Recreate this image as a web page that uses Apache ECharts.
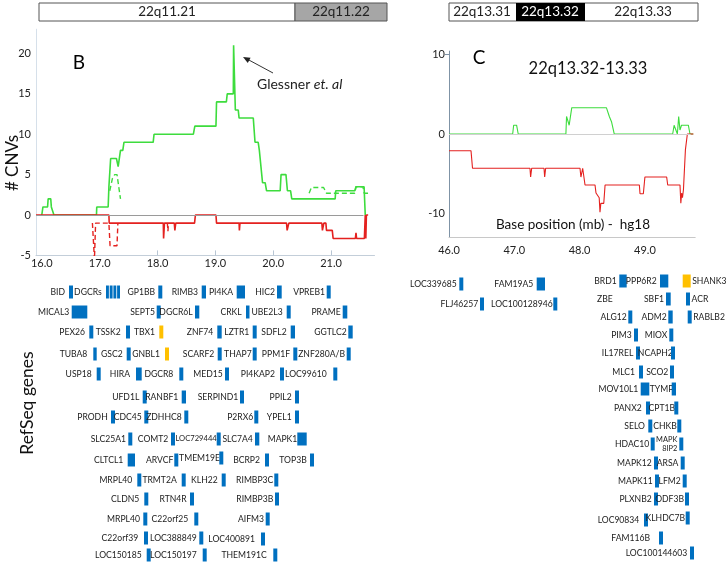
<!DOCTYPE html>
<html><head><meta charset="utf-8">
<script src="https://cdn.jsdelivr.net/npm/echarts@6/dist/echarts.min.js"></script>
<style>html,body{margin:0;padding:0;background:#fff}#c{width:726px;height:564px}</style>
</head><body><div id="c"></div><script>
// ---------- DATA ----------
// Panel B (22q11) : [position (mb), # CNVs]
const bGreenSolid = [[16.00,0],[16.02,1],[16.10,1],[16.11,2],[16.155,2],[16.165,1],[16.18,1],[16.21,0],
 [16.945,0],[16.95,1],[17.147,1],[17.16,3.5],[17.19,7],[17.29,7],[17.32,6],[17.34,6],[17.36,8],[17.40,8],[17.42,9],
 [17.925,9],[17.94,10],[18.62,10],[18.645,11],[19.01,11],[19.02,14],[19.19,14],[19.205,15],[19.31,15],[19.315,21],
 [19.33,21],[19.345,13],[19.395,13],[19.41,12],[19.655,12],[19.685,9],[19.74,9],[19.76,8],[19.815,4],[19.86,4],
 [19.885,3],[20.12,3],[20.135,5],[20.22,5],[20.245,3],[20.30,3],[20.32,2],[21.07,2],[21.08,3],[21.41,3],[21.43,3.5],
 [21.57,3.5],[21.59,0]];
const bGreenDashed = [[17.175,3],[17.22,4.5],[17.26,5],[17.30,5],[17.33,3.5],[17.36,2],null,
 [20.62,2.7],[20.66,3.4],[20.87,3.4],[20.92,2.7],[21.41,2.7],[21.43,3.5],[21.55,3.5],[21.57,2.7],[21.65,2.7]];
const bRedSolid = [[15.9,0],[17.16,0],[17.165,-1],[18.10,-1],[18.105,-2.9],[18.115,-2.9],[18.12,-1],[18.29,-1],
 [18.30,-1.9],[18.31,-1.9],[18.315,-1],[18.64,-1],[18.655,0],[19.01,0],[19.02,-1],[19.41,-1],[19.415,-1.9],
 [19.425,-1],[20.23,-1],[20.24,-1.9],[20.26,-1.9],[20.27,-1],[20.84,-1],[20.85,-1.9],[20.87,-1.9],[20.875,-1],
 [20.91,-1],[20.92,-1.9],[21.02,-1.9],[21.035,-2.9],[21.42,-2.9],[21.43,-2.2],[21.44,-2.9],[21.575,-2.9],
 [21.59,0],[21.60,-2.9],[21.61,0],[21.64,0]];
const bRedDashed = [[16.875,-1],[16.905,-1],[16.91,-5.5],[16.925,-5.5],[16.93,-1],[17.16,-1],[17.18,-3.8],
 [17.30,-3.8],[17.315,-1],null,[18.17,-1],[18.18,-2],[18.19,-1]];
// Panel C (22q13.32-13.33)
const cGreen = [[46.0,0],[46.975,0],[46.99,1.1],[47.035,1.1],[47.06,0],[47.79,0],[47.80,2.2],[47.84,1.1],
 [47.86,2.2],[47.88,3.3],[48.41,3.3],[48.455,2.2],[48.49,1.5],[48.53,0],[49.425,0],[49.447,1.1],[49.476,1.1],
 [49.497,0],[49.517,2.2],[49.527,2.2],[49.537,0.5],[49.56,1.1],[49.665,1.1],[49.69,0],[49.74,0]];
const cRed = [[46.0,-2.1],[46.337,-2.1],[46.36,-4.3],[47.24,-4.3],[47.25,-5.4],[47.266,-4.3],[47.455,-4.3],
 [47.465,-5.4],[47.48,-4.3],[48.006,-4.3],[48.02,-5.4],[48.047,-4.3],[48.083,-6.4],[48.236,-6.4],[48.251,-7.4],
 [48.30,-8],[48.312,-9.8],[48.325,-8.7],[48.37,-8.7],[48.39,-6.4],[48.915,-6.4],[48.925,-7.5],[48.976,-7.5],
 [49.0,-5.4],[49.333,-5.4],[49.349,-6.4],[49.537,-6.4],[49.55,-8.7],[49.563,-7.4],[49.575,-8],[49.59,-7],
 [49.62,-2],[49.65,0],[49.742,0]];
const bTicks = [16,17,18,19,20,21];
const bYTicks = [-5,0,5,10,15,20];
const cTicks = [46,47,48,49];
const cYTicks = [-10,0,10];
const bandsLeft = ["22q11.21","22q11.22"];
const bandsRight = ["22q13.31","22q13.32","22q13.33"];
const genesB = ["BID","DGCRs","GP1BB","RIMB3","PI4KA","HIC2","VPREB1",
 "MICAL3","SEPT5","DGCR6L","CRKL","UBE2L3","PRAME",
 "PEX26","TSSK2","TBX1","ZNF74","LZTR1","SDFL2","GGTLC2",
 "TUBA8","GSC2","GNBL1","SCARF2","THAP7","PPM1F","ZNF280A/B",
 "USP18","HIRA","DGCR8","MED15","PI4KAP2","LOC99610",
 "UFD1L","RANBF1","SERPIND1","PPIL2",
 "PRODH","CDC45","ZDHHC8","P2RX6","YPEL1",
 "SLC25A1","COMT2","LOC729444","SLC7A4","MAPK1",
 "CLTCL1","ARVCF","TMEM19E","BCRP2","TOP3B",
 "MRPL40","TRMT2A","KLH22","RIMBP3C",
 "CLDN5","RTN4R","RIMBP3B",
 "MRPL40","C22orf25","AIFM3",
 "C22orf39","LOC388849","LOC400891",
 "LOC150185","LOC150197","THEM191C"];
const genesC = ["LOC339685","FAM19A5","BRD1","PPP6R2","SHANK3",
 "FLJ46257","LOC100128946",
 "ZBE","SBF1","ACR",
 "ALG12","ADM2","RABLB2",
 "PIM3","MIOX",
 "IL17REL","NCAPH2",
 "MLC1","SCO2",
 "MOV10L1","TYMP",
 "PANX2","CPT1B",
 "SELO","CHKB",
 "HDAC10","MAPK8IP2",
 "MAPK12","ARSA",
 "MAPK11","LFM2",
 "PLXNB2","ODF3B",
 "LOC90834","KLHDC7B",
 "FAM116B",
 "LOC100144603"];

// ---------- LAYOUT (pixel placement of gene annotations) ----------
// [centre y, text right edge, block left, block width, kind]
const layoutB = [
 [292,65,69,4,'b'],[292,101.7,106,14.7,'s'],[292,155,158.3,4,'b'],[292,198,201.7,4.3,'b'],[292,233,236.7,8.3,'b'],[292,275,277,4.7,'b'],[292,325,326.7,4,'b'],
 [312,69.3,71.7,15.6,'b'],[312,155,156.7,4,'b'],[312,192.7,195,4.3,'b'],[312,241.7,246,3.5,'b'],[312,282.7,286.7,4,'b'],[312,340.7,342.7,4.6,'b'],
 [332,85,89.3,4,'b'],[332,120.7,126,4,'b'],[332,155,159.3,4,'y'],[332,213.3,217.3,4.4,'b'],[332,249.3,252.7,4,'b'],[332,286.7,290.7,4.3,'b'],[332,346.7,348.3,4.4,'b'],
 [354,87.3,93.3,3.4,'b'],[354,122.7,126.7,4,'b'],[354,160,165,4,'y'],[354,214.3,217.7,4,'b'],[354,251.7,252.7,4,'b'],[354,290,293.3,4,'b'],[354,345,346.7,4,'b'],
 [374,91.7,96.7,4,'b'],[374,130,136,5.7,'b'],[374,173.3,179.3,4,'b'],[374,222.7,225,4,'b'],[374,275,280,4,'b'],[374,326.7,333.3,4,'b'],
 [397,139.3,142.7,4,'b'],[397,178.3,181.7,4.3,'b'],[397,238.3,240,4,'b'],[397,291.7,295,4,'b'],
 [417,107.7,111,4,'b'],[417,141.7,144.3,4,'b'],[417,181.7,184.3,4,'b'],[417,253.3,254.3,4,'b'],[417,291.7,295,4,'b'],
 [439,126,128.3,4,'b'],[439,168.3,171,4,'b'],[439,216.7,216.7,4,'t'],[439,252.7,255,4.3,'b'],[439,297.3,297.3,9.4,'b'],
 [460,123.3,127.7,7.3,'b'],[460,173.3,174.3,4,'b'],[458,220,219.3,4,'b'],[460,260,265,4,'b'],[460,306.7,310,4,'b'],
 [480,132.3,137.3,4,'b'],[480,176.7,181.7,4,'b'],[480,217.7,221.7,4,'b'],[480,273.3,274.3,4,'b'],
 [499,139.3,144.3,4,'b'],[499,186.7,190,4,'b'],[499,273.3,275,4,'b'],
 [519,140,143.3,4,'b'],[519,188.3,194.3,4,'b'],[519,264,265.7,4,'b'],
 [538,138.3,144,4,'b'],[538,196.7,199.3,4,'b'],[539,255,261,4,'b'],
 [555,141.7,146.7,4,'b'],[555,196.7,202.7,4,'b'],[555,266.7,273.3,4,'b']];
const layoutC = [
 [284,456.7,459.3,4,'b'],[284,533.3,536.7,8.3,'b'],[281,616.7,619.3,7.4,'b'],[281,656.7,660,8.3,'b'],[281,0,682.7,8,'LY'],
 [304,478.3,480,4,'b'],[304,552.7,553.3,4,'b'],
 [299,612.7,0,0,'n'],[299,664,666,4.7,'b'],[299,0,686,4,'L'],
 [317,626.7,628.3,4,'b'],[317,666.7,668.3,4.4,'b'],[317,0,687.7,4,'L'],
 [335,631.7,634,4,'b'],[335,667.3,669.3,4,'b'],
 [353,633.3,636,4,'b'],[353,672.7,671,4,'b'],
 [372,635,639,4,'b'],[372,668.3,670,4,'b'],
 [389,638.3,640.7,8.6,'b'],[389,673.3,671.7,4.3,'b'],
 [408,641.7,646,4,'b'],[408,675,674.3,4,'b'],
 [426,645,648.3,4,'b'],[426,676.7,677.3,4,'b'],
 [444,649.3,650.7,4,'b'],[444,677.3,679.3,4,'w'],
 [463,651.7,654,4,'b'],[463,678.3,680.7,4,'b'],
 [481,652.7,655,4,'b'],[481,680.7,682.7,4,'b'],
 [499,651.7,654,4,'b'],[499,684,685,4,'b'],
 [520,639.3,644,4,'b'],[518,685,685.7,4,'b'],
 [538,650,659,4,'b'],
 [553,687.3,690,4,'b']];

// ---------- STYLE ----------
const GREEN='#3ddc3d', RED='#e4211f', BLUE='#0070c0', YELLOW='#ffc000';
const FF='Lato, "Noto Sans", sans-serif';
const GF='8.6px '+FF;

function txt(t,x,y,align,font,fill,extra){
  return Object.assign({type:'text',x:x,y:y,silent:true,
    style:{text:t,font:font,fill:fill||'#222',align:align,textAlign:align,verticalAlign:'middle',textVerticalAlign:'middle'}},extra||{});
}
function rect(x,y,w,h,fill,stroke){
  return {type:'rect',silent:true,shape:{x:x,y:y,width:w,height:h},style:{fill:fill,stroke:stroke||null,lineWidth:stroke?1:0}};
}
function geneEls(names,layout){
  const out=[];
  names.forEach((n,i)=>{
    const [y,tx,bx,bw,k]=layout[i];
    if(k==='L'||k==='LY'){
      out.push(txt(n,bx+bw+1.5,y,'left',GF));
      out.push(rect(bx,y-6.5,bw,13,k==='LY'?YELLOW:BLUE));
      return;
    }
    if(k==='w'){
      out.push(txt(n.slice(0,4),tx,y-4.5,'right','7.4px '+FF));
      out.push(txt(n.slice(4),tx,y+5,'right','7.4px '+FF));
    } else {
      out.push(txt(n,tx,y,'right',k==='t'?'7.6px '+FF:GF));
    }
    if(k==='s'){
      for(let j=0;j<4;j++) out.push(rect(bx+j*3.7,y-6.5,2.9,13,BLUE));
    } else if(k!=='n'){
      out.push(rect(bx,y-6.5,bw,13,k==='y'?YELLOW:BLUE));
    }
  });
  return out;
}

const graphics = [];
// chromosome band bars
graphics.push(rect(39,3,256,18,'#fff','#555'));
graphics.push(rect(295,3,92,18,'#a6a6a6','#555'));
graphics.push(txt(bandsLeft[0],167,12,'center','13.5px '+FF,'#222'));
graphics.push(txt(bandsLeft[1],341,12,'center','13.5px '+FF,'#222'));
graphics.push(rect(449,3,249,18,'#fff','#555'));
graphics.push(rect(516,3,69,18,'#000',null));
graphics.push(txt(bandsRight[0],482,12,'center','13.5px '+FF,'#222'));
graphics.push(txt(bandsRight[1],550,12,'center','13.5px '+FF,'#fff'));
graphics.push(txt(bandsRight[2],643,12,'center','13.5px '+FF,'#222'));
// panel annotations
graphics.push(txt('B',79,63,'center','19px '+FF,'#000'));
graphics.push({type:'text',x:257,y:84,silent:true,style:{text:'{a|Glessner }{b|et. al}',verticalAlign:'middle',textVerticalAlign:'middle',align:'left',textAlign:'left',
  rich:{a:{font:'14px '+FF,fill:'#222'},b:{font:'italic 14px '+FF,fill:'#222'}}}});
graphics.push({type:'line',silent:true,shape:{x1:273,y1:73,x2:247,y2:59},style:{stroke:'#333',lineWidth:1}});
graphics.push({type:'polygon',silent:true,shape:{points:[[243,57],[250.6,57.7],[247.8,62.9]]},style:{fill:'#222'}});
graphics.push(txt('# CNVs',13,163,'center','17px '+FF,'#111',{rotation:Math.PI/2}));
graphics.push(txt('RefSeq genes',27,403,'center','17.5px '+FF,'#111',{rotation:Math.PI/2}));
graphics.push(txt('C',479,58,'center','19px '+FF,'#000'));
graphics.push(txt('22q13.32-13.33',588,69,'center','16.5px '+FF,'#111'));
graphics.push(txt('Base position (mb) -  hg18',573,225,'center','13.5px '+FF,'#111'));
geneEls(genesB,layoutB).forEach(e=>graphics.push(e));
geneEls(genesC,layoutC).forEach(e=>graphics.push(e));

const axLab = {fontFamily:'Lato',fontSize:11,color:'#222'};
const chart = echarts.init(document.getElementById('c'),null,{renderer:'canvas'});
chart.setOption({
  animation:false,
  backgroundColor:'#fff',
  grid:[
    {left:36,top:29.2,width:338.5,height:226.2},
    {left:449,top:51.1,width:246.2,height:186.5}
  ],
  xAxis:[
    {type:'value',gridIndex:0,min:15.9,max:21.75,
     axisLine:{onZero:false,lineStyle:{color:'#c3ced9',width:1}},
     axisTick:{show:true,inside:true,length:5,customValues:bTicks.slice(2),lineStyle:{color:'#b8c6d4'}},
     axisLabel:Object.assign({customValues:bTicks,margin:3,formatter:v=>Number(v).toFixed(1)},axLab),
     splitLine:{show:false}},
    {type:'value',gridIndex:1,min:46,max:49.77,
     axisLine:{onZero:false,lineStyle:{color:'#c8c8c8',width:1}},
     axisTick:{show:false},
     axisLabel:Object.assign({customValues:cTicks,margin:7,formatter:v=>Number(v).toFixed(1)},axLab),
     splitLine:{show:false}}
  ],
  yAxis:[
    {type:'value',gridIndex:0,min:-5,max:23,
     axisLine:{show:true,lineStyle:{color:'#d6e0ea'}},
     axisTick:{show:false},
     axisLabel:Object.assign({customValues:bYTicks,margin:5},axLab),
     splitLine:{show:false}},
    {type:'value',gridIndex:1,min:-13,max:10.4,
     axisLine:{show:true,lineStyle:{color:'#7f93a6'}},
     axisTick:{show:true,length:4,customValues:[10],lineStyle:{color:'#7f93a6'}},
     axisLabel:Object.assign({customValues:cYTicks,margin:4},axLab),
     splitLine:{show:false}}
  ],
  series:[
    {type:'line',xAxisIndex:0,yAxisIndex:0,data:bGreenSolid,showSymbol:false,z:2,
     lineStyle:{color:GREEN,width:1.6},
     markLine:{silent:true,symbol:'none',label:{show:false},lineStyle:{color:'#9a9a9a',type:'solid',width:1.2},
       data:[[{coord:[15.9,0]},{coord:[21.56,0]}]]}},
    {type:'line',xAxisIndex:0,yAxisIndex:0,data:bGreenDashed,showSymbol:false,z:2,connectNulls:false,
     lineStyle:{color:GREEN,width:1.4,type:[5,3]}},
    {type:'line',xAxisIndex:0,yAxisIndex:0,data:bRedSolid,showSymbol:false,z:4,
     lineStyle:{color:RED,width:1.6}},
    {type:'line',xAxisIndex:0,yAxisIndex:0,data:bRedDashed,showSymbol:false,z:4,connectNulls:false,
     lineStyle:{color:RED,width:1.4,type:[5,3]}},
    {type:'line',xAxisIndex:1,yAxisIndex:1,data:cGreen,showSymbol:false,z:2,
     lineStyle:{color:GREEN,width:1.1},
     markLine:{silent:true,symbol:'none',label:{show:false},lineStyle:{color:'#d0d0d0',type:'solid',width:1},
       data:[[{coord:[46,0]},{coord:[49.7,0]}]]}},
    {type:'line',xAxisIndex:1,yAxisIndex:1,data:cRed,showSymbol:false,z:4,
     lineStyle:{color:RED,width:1.1}}
  ],
  graphic:{elements:graphics}
});
</script></body></html>
